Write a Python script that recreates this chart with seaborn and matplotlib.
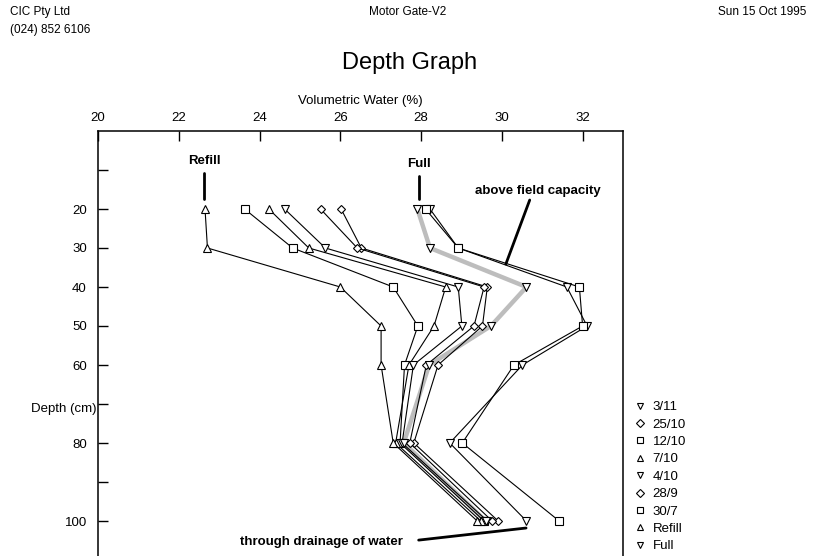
import matplotlib
matplotlib.use("Agg")
import matplotlib.pyplot as plt
import matplotlib.transforms as mtransforms
from matplotlib.lines import Line2D
import seaborn as sns

# ---------------- data ----------------
depths = [20, 30, 40, 50, 60, 80, 100]
legend_labels = ["3/11", "25/10", "12/10", "7/10", "4/10", "28/9", "30/7", "Refill", "Full"]
legend_markers = ["v", "D", "s", "^", "v", "D", "s", "^", "v"]

v_3_11 = [28.22, 28.92, 31.61, 32.11, 30.51, 28.71, 30.61]
v_25_10 = [26.02, 26.52, 29.64, 29.52, 28.42, 27.82, 29.91]
v_12_10 = [23.63, 24.82, 27.31, 27.92, 27.59, 27.48, 29.56]
v_7_10 = [24.23, 25.22, 28.61, 28.32, 27.70, 27.37, 29.48]
v_4_10 = [24.62, 25.63, 28.92, 29.01, 27.81, 27.53, 29.64]
v_28_9 = [25.51, 26.42, 29.56, 29.31, 28.13, 27.72, 29.76]
v_30_7 = [28.11, 28.92, 31.92, 32.00, 30.30, 29.02, 31.42]
v_refill = [22.65, 22.71, 26.00, 27.01, 27.01, 27.31, 29.39]
v_full = [27.91, 28.22, 30.61, 29.73, 28.20, 27.57, 29.60]

x_ticks = [20, 22, 24, 26, 28, 30, 32]
y_ticks = [10, 20, 30, 40, 50, 60, 70, 80, 90, 100]
y_tick_labels = ["", "20", "30", "40", "50", "60", "", "80", "", "100"]

# ---------------- style ----------------
sns.set_style("ticks")
plt.rcParams["font.family"] = ["Liberation Sans", "DejaVu Sans"]
plt.rcParams["text.color"] = "black"
plt.rcParams["axes.labelcolor"] = "black"
plt.rcParams["xtick.color"] = "black"
plt.rcParams["ytick.color"] = "black"
plt.rcParams["axes.edgecolor"] = "black"

W, H = 816, 556
fig = plt.figure(figsize=(W / 100, H / 100), dpi=100)
left_px, right_px, top_px = 98, 623, 131
ymax = 112
px_per_cm = 3.9
height_px = ymax * px_per_cm
ax = fig.add_axes([left_px / W, (H - top_px - height_px) / H,
                   (right_px - left_px) / W, height_px / H])

series = [
    (v_3_11, "v"), (v_25_10, "D"), (v_12_10, "s"), (v_7_10, "^"),
    (v_4_10, "v"), (v_28_9, "D"), (v_30_7, "s"), (v_refill, "^"),
]
msize = {"v": 5.8, "^": 5.8, "s": 5.2, "D": 4.4}

# Full profile: thick grey line
sns.lineplot(x=v_full, y=depths, orient="y", sort=False, color="#bdbdbd",
             lw=3.2, ax=ax, legend=False, zorder=1)

for vals, m in series:
    sns.lineplot(x=vals, y=depths, orient="y", sort=False, color="black",
                 lw=0.8, marker=m, markersize=msize[m], markerfacecolor="white",
                 markeredgecolor="black", markeredgewidth=0.8, ax=ax,
                 legend=False, zorder=3)

sns.scatterplot(x=v_full, y=depths, marker="v", s=33, facecolor="white",
                edgecolor="black", linewidth=0.8, ax=ax, legend=False, zorder=4)

# ---------------- axes ----------------
ax.set_xlim(20, 33)
ax.set_ylim(ymax, 0)
ax.xaxis.tick_top()
ax.xaxis.set_label_position("top")
ax.set_xticks(x_ticks)
ax.set_xticklabels([str(t) for t in x_ticks])
ax.set_yticks(y_ticks)
ax.set_yticklabels(y_tick_labels)
ax.tick_params(axis="x", direction="in", length=7, width=1, pad=5, labelsize=9.5,
               top=True, bottom=False, colors="black")
ax.tick_params(axis="y", direction="in", length=7, width=1, pad=8, labelsize=9.5,
               left=True, right=False, colors="black")
ax.set_xlabel("Volumetric Water (%)", fontsize=9.5, labelpad=6, color="black")
ax.set_ylabel("")
for s in ["left", "top", "right", "bottom"]:
    ax.spines[s].set_visible(True)
    ax.spines[s].set_linewidth(1.1)
    ax.spines[s].set_color("black")

trans = mtransforms.blended_transform_factory(ax.transAxes, ax.transData)
ax.text(-0.003, 71.3, "Depth (cm)", transform=trans, ha="right", va="center",
        fontsize=9.5, color="black")

# ---------------- annotations ----------------
ax.text(22.63, 7.7, "Refill", ha="center", va="center", fontsize=9.5,
        fontweight="bold", color="black")
ax.plot([22.63, 22.63], [10.8, 17.4], color="black", lw=2)
ax.text(27.94, 8.5, "Full", ha="center", va="center", fontsize=9.5,
        fontweight="bold", color="black")
ax.plot([27.94, 27.94], [11.5, 17.4], color="black", lw=2)
ax.text(30.89, 15.4, "above field capacity", ha="center", va="center",
        fontsize=9.5, fontweight="bold", color="black")
ax.plot([30.69, 30.10], [17.7, 34.1], color="black", lw=2)
ax.text(25.53, 105.4, "through drainage of water", ha="center", va="center",
        fontsize=9.5, fontweight="bold", color="black")
ax.plot([27.94, 30.60], [104.9, 101.8], color="black", lw=2)

# ---------------- legend ----------------
handles = [Line2D([], [], ls="", marker=m, markersize=msize[m] * 0.85,
                  markerfacecolor="white", markeredgecolor="black",
                  markeredgewidth=0.8) for m in legend_markers]
leg = fig.legend(handles, legend_labels, loc="upper left",
                 bbox_to_anchor=(633 / W, 1 - 401 / H), frameon=False,
                 fontsize=9.5, handlelength=1.0, handletextpad=0.5,
                 labelspacing=0.39, borderpad=0, borderaxespad=0)
for t in leg.get_texts():
    t.set_color("black")

# ---------------- header ----------------
fig.text(10 / W, 1 - 12 / H, "CIC Pty Ltd", ha="left", va="center", fontsize=8.5)
fig.text(10 / W, 1 - 30 / H, "(024) 852 6106", ha="left", va="center", fontsize=8.5)
fig.text(408 / W, 1 - 12 / H, "Motor Gate-V2", ha="center", va="center", fontsize=8.5)
fig.text(806 / W, 1 - 12 / H, "Sun 15 Oct 1995", ha="right", va="center", fontsize=8.5)
fig.text(410 / W, 1 - 63 / H, "Depth Graph", ha="center", va="center", fontsize=17)

fig.savefig("out.png", dpi=100)
